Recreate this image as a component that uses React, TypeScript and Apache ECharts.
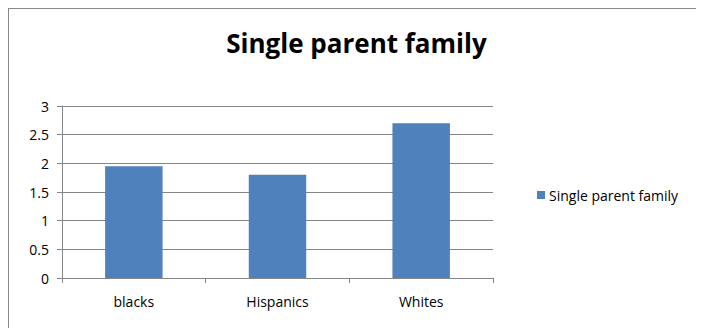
import React, { useEffect, useRef } from "react";
import * as echarts from "echarts";

const categories = ["blacks", "Hispanics", "Whites"];
const seriesName = "Single parent family";
const values = [1.95, 1.8, 2.7];
const titleText = "Single parent family";

export default function App() {
  const ref = useRef<HTMLDivElement>(null);
  useEffect(() => {
    if (!ref.current) return;
    const chart = echarts.init(ref.current, undefined, { renderer: "svg" });
    const font = "'Open Sans', 'Noto Sans', sans-serif";
    chart.setOption({
      animation: false,
      backgroundColor: "#ffffff",
      title: {
        text: titleText,
        left: "center",
        top: 16,
        textStyle: { fontFamily: font, fontWeight: "bold", fontSize: 26, color: "#000" },
      },
      legend: {
        data: [seriesName],
        left: 523,
        top: 174,
        itemWidth: 8,
        itemHeight: 8,
        icon: "rect",
        itemGap: 6,
        textStyle: { fontFamily: font, fontSize: 14, color: "#000", padding: [0, 0, 0, -1] },
      },
      grid: { left: 53, top: 97, width: 431, height: 172, containLabel: false },
      xAxis: {
        type: "category",
        data: categories,
        axisLine: { lineStyle: { color: "#868686", width: 1 } },
        axisTick: { show: true, alignWithLabel: false, length: 5, lineStyle: { color: "#868686" } },
        axisLabel: { fontFamily: font, fontSize: 14, color: "#000", margin: 16 },
        splitLine: { show: false },
      },
      yAxis: {
        type: "value",
        min: 0,
        max: 3,
        interval: 0.5,
        axisLine: { show: true, lineStyle: { color: "#868686", width: 1 } },
        axisTick: { show: true, length: 5, lineStyle: { color: "#868686" } },
        axisLabel: { fontFamily: font, fontSize: 14, color: "#000", margin: 13 },
        splitLine: { show: true, lineStyle: { color: "#868686", width: 1 } },
      },
      series: [
        {
          name: seriesName,
          type: "bar",
          data: values,
          barCategoryGap: "60%",
          itemStyle: { color: "#4F81BD" },
        },
      ],
    });
    return () => chart.dispose();
  }, []);
  return (
    <div
      style={{
        width: 696,
        height: 320,
        borderTop: "1px solid #888",
        borderLeft: "1px solid #888",
        boxSizing: "border-box",
      }}
    >
      <div ref={ref} style={{ width: 695, height: 319 }} />
    </div>
  );
}
